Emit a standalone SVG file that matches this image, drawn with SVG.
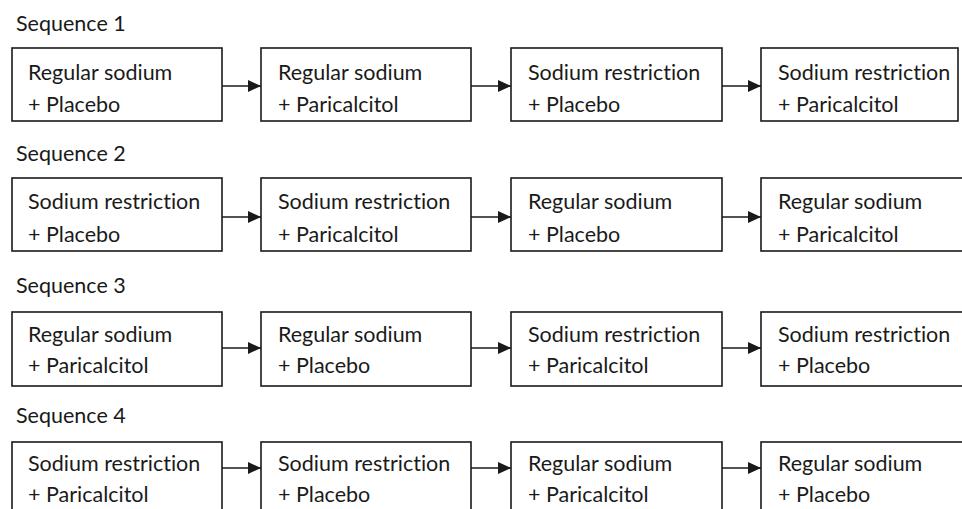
<svg xmlns="http://www.w3.org/2000/svg" width="962" height="509" viewBox="0 0 962 509">
<style>
.bg{fill:#ffffff}
.box{fill:#ffffff;stroke:#1a1a1a;stroke-width:1.6}
.t{font-family:Lato,"Open Sans","Liberation Sans",sans-serif;font-size:21.5px;fill:#1a1a1a;font-variant-ligatures:none;font-feature-settings:"liga" 0}
.conn line{stroke:#1a1a1a;stroke-width:1.6}
</style>
<defs>
<marker id="ah" viewBox="0 0 13 12" refX="13" refY="6" markerWidth="13" markerHeight="12" markerUnits="userSpaceOnUse" orient="auto">
<path d="M0,0 L13,6 L0,12 Z" fill="#1a1a1a"/>
</marker>
</defs>
<rect class="bg" x="0" y="0" width="962" height="509"/>
<g id="labels">
<text class="t" x="16" y="31">Sequence 1</text>
<text class="t" x="16" y="161">Sequence 2</text>
<text class="t" x="16" y="293">Sequence 3</text>
<text class="t" x="16" y="423">Sequence 4</text>
</g>
<g id="connectors" class="conn">
<line x1="222" y1="86" x2="261" y2="86" marker-end="url(#ah)"/>
<line x1="471" y1="86" x2="511" y2="86" marker-end="url(#ah)"/>
<line x1="722" y1="86" x2="761" y2="86" marker-end="url(#ah)"/>
<line x1="222" y1="217" x2="261" y2="217" marker-end="url(#ah)"/>
<line x1="471" y1="217" x2="511" y2="217" marker-end="url(#ah)"/>
<line x1="722" y1="217" x2="761" y2="217" marker-end="url(#ah)"/>
<line x1="222" y1="348" x2="261" y2="348" marker-end="url(#ah)"/>
<line x1="471" y1="348" x2="511" y2="348" marker-end="url(#ah)"/>
<line x1="722" y1="348" x2="761" y2="348" marker-end="url(#ah)"/>
<line x1="222" y1="468" x2="261" y2="468" marker-end="url(#ah)"/>
<line x1="471" y1="468" x2="511" y2="468" marker-end="url(#ah)"/>
<line x1="722" y1="468" x2="761" y2="468" marker-end="url(#ah)"/>
</g>
<g id="s1n1"><rect class="box" x="12" y="48" width="210" height="73"/><text class="t" x="28" y="80">Regular sodium</text><text class="t" x="28" y="112">+ Placebo</text></g>
<g id="s1n2"><rect class="box" x="261" y="48" width="210" height="73"/><text class="t" x="278" y="80">Regular sodium</text><text class="t" x="278" y="112">+ Paricalcitol</text></g>
<g id="s1n3"><rect class="box" x="511" y="48" width="211" height="73"/><text class="t" x="528" y="80">Sodium restriction</text><text class="t" x="528" y="112">+ Placebo</text></g>
<g id="s1n4"><rect class="box" x="761" y="48" width="197" height="73"/><text class="t" x="778" y="80">Sodium restriction</text><text class="t" x="778" y="112">+ Paricalcitol</text></g>
<g id="s2n1"><rect class="box" x="12" y="178" width="210" height="73"/><text class="t" x="28" y="209">Sodium restriction</text><text class="t" x="28" y="242">+ Placebo</text></g>
<g id="s2n2"><rect class="box" x="261" y="178" width="210" height="73"/><text class="t" x="278" y="209">Sodium restriction</text><text class="t" x="278" y="242">+ Paricalcitol</text></g>
<g id="s2n3"><rect class="box" x="511" y="178" width="211" height="73"/><text class="t" x="528" y="209">Regular sodium</text><text class="t" x="528" y="242">+ Placebo</text></g>
<g id="s2n4"><rect class="box" x="761" y="178" width="210" height="73"/><text class="t" x="778" y="209">Regular sodium</text><text class="t" x="778" y="242">+ Paricalcitol</text></g>
<g id="s3n1"><rect class="box" x="12" y="312" width="210" height="74"/><text class="t" x="28" y="342">Regular sodium</text><text class="t" x="28" y="373">+ Paricalcitol</text></g>
<g id="s3n2"><rect class="box" x="261" y="312" width="210" height="74"/><text class="t" x="278" y="342">Regular sodium</text><text class="t" x="278" y="373">+ Placebo</text></g>
<g id="s3n3"><rect class="box" x="511" y="312" width="211" height="74"/><text class="t" x="528" y="342">Sodium restriction</text><text class="t" x="528" y="373">+ Paricalcitol</text></g>
<g id="s3n4"><rect class="box" x="761" y="312" width="210" height="74"/><text class="t" x="778" y="342">Sodium restriction</text><text class="t" x="778" y="373">+ Placebo</text></g>
<g id="s4n1"><rect class="box" x="12" y="442" width="210" height="80"/><text class="t" x="28" y="471">Sodium restriction</text><text class="t" x="28" y="502">+ Paricalcitol</text></g>
<g id="s4n2"><rect class="box" x="261" y="442" width="210" height="80"/><text class="t" x="278" y="471">Sodium restriction</text><text class="t" x="278" y="502">+ Placebo</text></g>
<g id="s4n3"><rect class="box" x="511" y="442" width="211" height="80"/><text class="t" x="528" y="471">Regular sodium</text><text class="t" x="528" y="502">+ Paricalcitol</text></g>
<g id="s4n4"><rect class="box" x="761" y="442" width="210" height="80"/><text class="t" x="778" y="471">Regular sodium</text><text class="t" x="778" y="502">+ Placebo</text></g>
</svg>
